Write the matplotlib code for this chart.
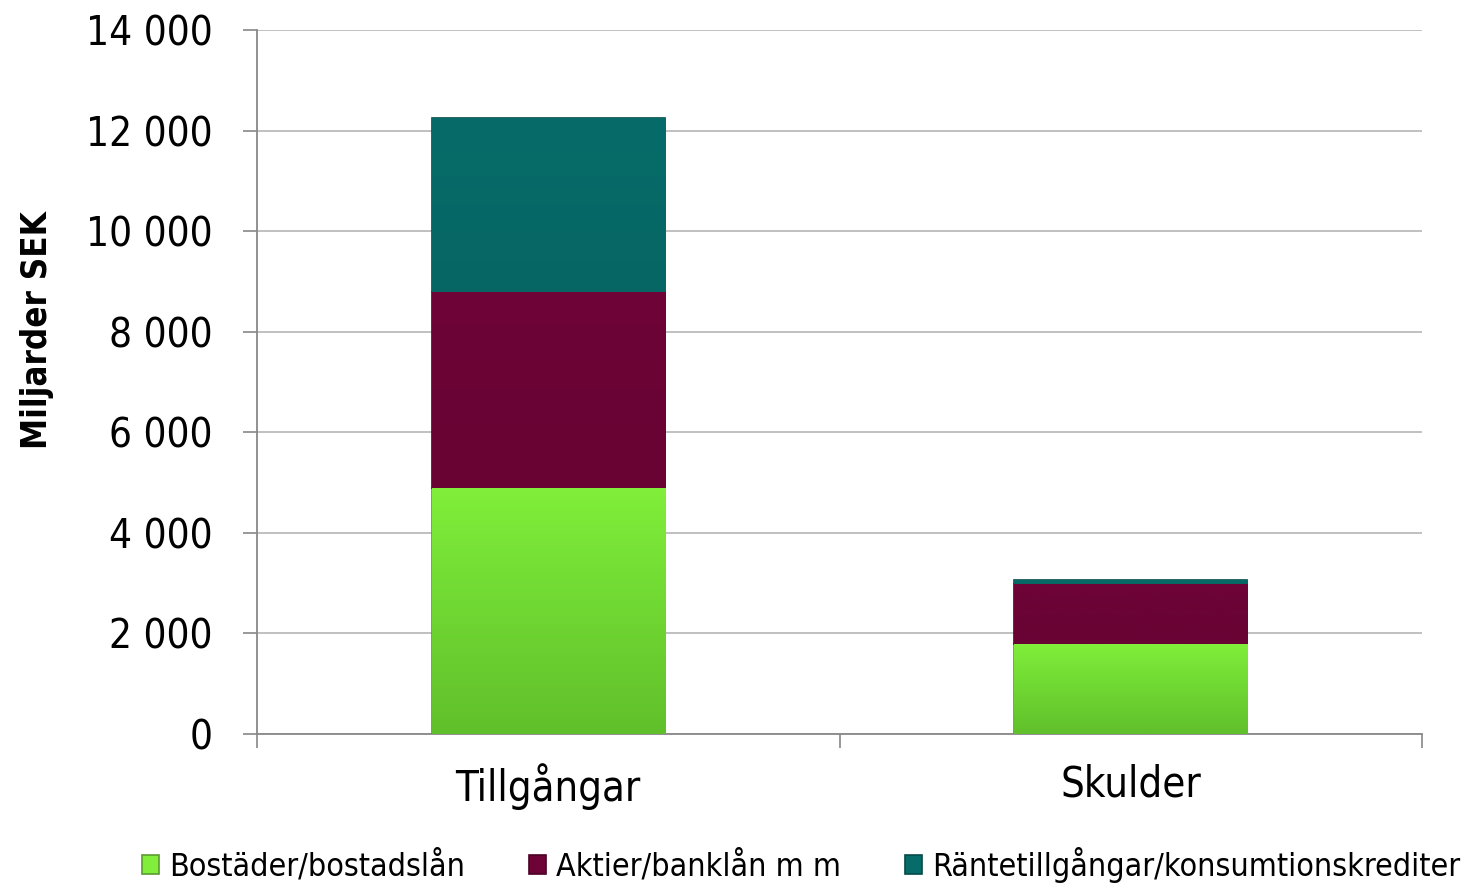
import matplotlib
matplotlib.use("Agg")
import matplotlib.pyplot as plt
import numpy as np
from matplotlib import font_manager
from matplotlib.colors import LinearSegmentedColormap
from matplotlib.ticker import FuncFormatter

# Dati
categorie = ["Tillgångar", "Skulder"]
serie = ["Bostäder/bostadslån", "Aktier/banklån m m", "Räntetillgångar/konsumtionskrediter"]
bostader = [4890, 1790]
aktier = [3900, 1190]
ranta = [3460, 80]
colori = ["#80ee3a", "#6e0337", "#076c69"]
scuri = ["#60c02b", "#680334", "#066664"]
bordi = ["#5a9a30", "#4a0226", "#054b49"]

# Font stretto se disponibile
condensed = any(f.name == "DejaVu Sans" and f.stretch in ("condensed", "semi-condensed")
                for f in font_manager.fontManager.ttflist)
plt.rcParams["font.family"] = ["DejaVu Sans"]
if condensed:
    plt.rcParams["font.stretch"] = "condensed"
k = 1.0 if condensed else 0.86

fig = plt.figure(figsize=(14.66, 8.92), dpi=100)
ax = fig.add_axes([0.1753, 0.1771, 0.7947, 0.7893])

x = list(range(len(categorie)))
base = [0, 0]
for valori, col, scuro, bordo, nome in zip([bostader, aktier, ranta], colori, scuri, bordi, serie):
    barre = ax.bar(x, valori, width=0.4, bottom=base, color=col, edgecolor=bordo,
                   linewidth=1.2, label=nome, zorder=3)
    cmap = LinearSegmentedColormap.from_list("g", [scuro, col])
    for b in barre:
        x0, y0 = b.get_x(), b.get_y()
        w, h = b.get_width(), b.get_height()
        im = ax.imshow(np.linspace(0, 1, 64).reshape(-1, 1), cmap=cmap, origin="lower",
                       extent=(x0, x0 + w, y0, y0 + h), aspect="auto", zorder=3.5)
        im.set_clip_path(b)
    base = [b + v for b, v in zip(base, valori)]

ax.set_xlim(-0.5, 1.5)
ax.set_ylim(0, 14000)
ax.set_yticks(range(0, 14001, 2000))
ax.yaxis.set_major_formatter(FuncFormatter(lambda v, p: f"{int(v):,}".replace(",", " ")))
ax.set_xticks(x)
ax.set_xticklabels(categorie, fontsize=30 * k)
ax.set_xticks([-0.5, 0.5, 1.5], minor=True)
ax.tick_params(axis="x", which="major", length=0, pad=21)
ax.tick_params(axis="x", which="minor", length=10, width=1.2, color="#888888", direction="out")
ax.tick_params(axis="y", labelsize=29 * k, length=10, width=1.2, color="#888888", pad=22)

ax.grid(axis="y", color="#bbbbbb", linewidth=1.3, zorder=0)
for s in ["top", "right"]:
    ax.spines[s].set_visible(False)
for s in ["left", "bottom"]:
    ax.spines[s].set_color("#888888")
    ax.spines[s].set_linewidth(1.3)

ax.set_ylabel("Miljarder SEK", fontsize=25 * k, fontweight="bold")
ax.yaxis.set_label_coords(-0.174, 0.574)

fig.legend(loc="lower left", bbox_to_anchor=(0.077, -0.022), ncol=3, frameon=False,
           fontsize=23 * k, handlelength=0.55, handleheight=0.55, handletextpad=0.3,
           columnspacing=2.0)

fig.savefig("out.png", dpi=100)
